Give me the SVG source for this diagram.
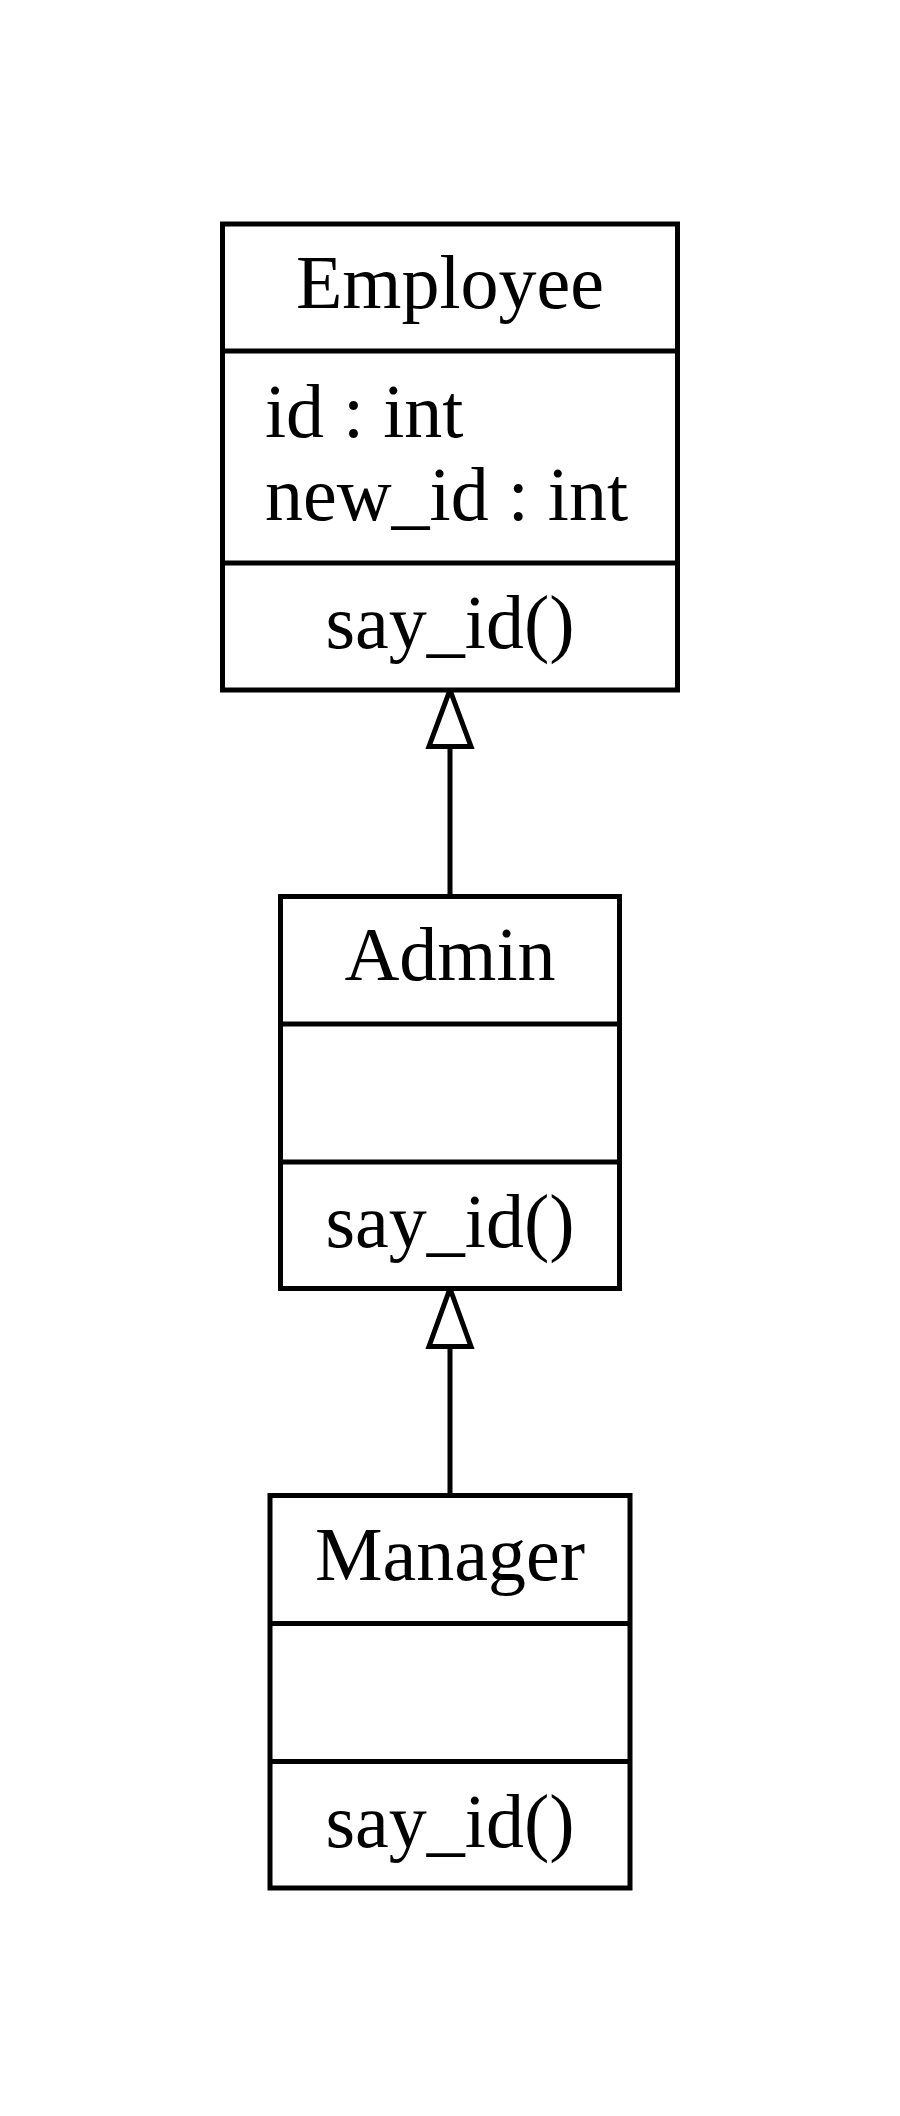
<svg xmlns="http://www.w3.org/2000/svg" width="900" height="2116" viewBox="0 0 900 2116">
  <style>
    .box { fill: #ffffff; stroke: #000000; stroke-width: 5; }
    .div { stroke: #000000; stroke-width: 5; fill: none; }
    .edge { stroke: #000000; stroke-width: 5; fill: none; }
    .head { fill: #ffffff; stroke: #000000; stroke-width: 5; stroke-linejoin: miter; }
    text { font-family: "Liberation Serif", "Times New Roman", serif; font-size: 76px; fill: #000000; }
    .c { text-anchor: middle; }
    .l { text-anchor: start; }
  </style>
  <rect width="900" height="2116" fill="#ffffff"/>
  <g id="connectors">
    <line class="edge" x1="450" y1="746.5" x2="450" y2="896.5"/>
    <polygon class="head" points="450,690 471,746.5 429,746.5"/>
    <line class="edge" x1="450" y1="1346.5" x2="450" y2="1495.5"/>
    <polygon class="head" points="450,1288.5 471,1346.5 429,1346.5"/>
  </g>
  <g id="Employee">
    <rect class="box" x="222.5" y="224" width="455" height="466"/>
    <line class="div" x1="222.5" y1="351" x2="677.5" y2="351"/>
    <line class="div" x1="222.5" y1="563" x2="677.5" y2="563"/>
    <text class="c" x="450" y="308">Employee</text>
    <text class="l" x="265" y="437">id : int</text>
    <text class="l" x="265" y="520">new_id : int</text>
    <text class="c" x="450" y="648">say_id()</text>
  </g>
  <g id="Admin">
    <rect class="box" x="280.5" y="896.5" width="339" height="392"/>
    <line class="div" x1="280.5" y1="1024" x2="619.5" y2="1024"/>
    <line class="div" x1="280.5" y1="1162" x2="619.5" y2="1162"/>
    <text class="c" x="450" y="980">Admin</text>
    <text class="c" x="450" y="1247">say_id()</text>
  </g>
  <g id="Manager">
    <rect class="box" x="270" y="1495.5" width="360" height="392.5"/>
    <line class="div" x1="270" y1="1623.5" x2="630" y2="1623.5"/>
    <line class="div" x1="270" y1="1761.5" x2="630" y2="1761.5"/>
    <text class="c" x="450" y="1580">Manager</text>
    <text class="c" x="450" y="1847">say_id()</text>
  </g>
</svg>
